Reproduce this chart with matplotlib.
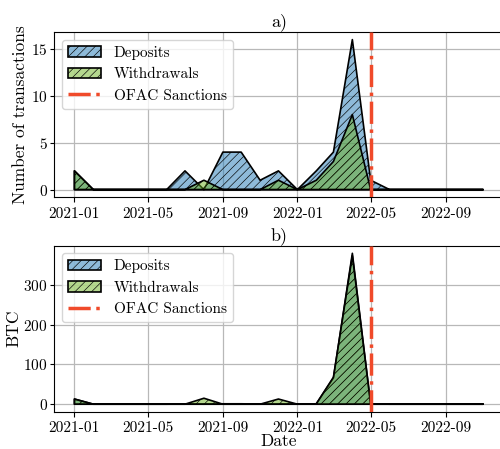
import matplotlib
matplotlib.use("Agg")
import matplotlib.pyplot as plt
import matplotlib.dates as mdates
import pandas as pd

plt.rcParams['font.family'] = 'serif'
plt.rcParams['font.serif'] = ['cmr10', 'DejaVu Serif']
plt.rcParams['mathtext.fontset'] = 'cm'
plt.rcParams['axes.formatter.use_mathtext'] = True
plt.rcParams['hatch.linewidth'] = 0.45

# monthly data, 2021-01 .. 2022-11
months = pd.date_range('2021-01-01', '2022-11-01', freq='MS')

deposits_count = [2, 0, 0, 0, 0, 0, 2, 0, 4, 4, 1, 2,
                  0, 2, 4, 16, 1, 0, 0, 0, 0, 0, 0]
withdrawals_count = [2, 0, 0, 0, 0, 0, 0, 1, 0, 0, 0, 1,
                     0, 1, 3, 8, 0, 0, 0, 0, 0, 0, 0]

deposits_btc = [13, 0, 0, 0, 0, 0, 0.5, 0, 1, 1, 0.3, 1,
                0, 1, 66, 380, 0.5, 0, 0, 0, 0, 0, 0]
withdrawals_btc = [13, 0, 0, 0, 0, 0, 0, 15, 0, 0, 0, 13,
                   0, 1, 68, 374, 0, 0, 0, 0, 0, 0, 0]

sanction_date = pd.Timestamp('2022-05-01')

blue = (0.122, 0.467, 0.706, 0.5)
green = (0.42, 0.69, 0.12, 0.5)
red = '#f04a2a'

fig = plt.figure(figsize=(5, 4.49), dpi=100)
ax1 = fig.add_axes([0.108, 0.561, 0.899, 0.3675])
ax2 = fig.add_axes([0.108, 0.083, 0.899, 0.3697])

def draw(ax, dep, wd, title, ylabel, label_x):
    ax.fill_between(months, dep, facecolor=blue, edgecolor='black', hatch='////',
                    linewidth=1.2, label='Deposits', zorder=2)
    ax.fill_between(months, wd, facecolor=green, edgecolor='black', hatch='////',
                    linewidth=1.2, label='Withdrawals', zorder=3)
    ax.axvline(sanction_date, color=red, linestyle='-.', linewidth=2.5,
               label='OFAC Sanctions', zorder=4)
    ax.set_title(title, fontsize=13, pad=4)
    ax.set_ylabel(ylabel, fontsize=12.5)
    ax.yaxis.set_label_coords(label_x, 0.5)
    ax.grid(True, color='#b8b8b8', linewidth=0.9)
    ax.set_axisbelow(True)
    ax.xaxis.set_major_locator(mdates.MonthLocator(bymonth=(1, 5, 9)))
    ax.xaxis.set_major_formatter(mdates.DateFormatter('%Y-%m'))
    ax.tick_params(labelsize=11)
    ax.tick_params(axis='y', length=3, pad=1.5)
    ax.legend(loc='upper left', fontsize=11, handlelength=2.2)

draw(ax1, deposits_count, withdrawals_count, 'a)', 'Number of transactions', -0.058)
draw(ax2, deposits_btc, withdrawals_btc, 'b)', 'BTC', -0.072)
ax2.set_xlabel('Date', fontsize=12.5, labelpad=-1)

fig.savefig('out.png', dpi=100)
